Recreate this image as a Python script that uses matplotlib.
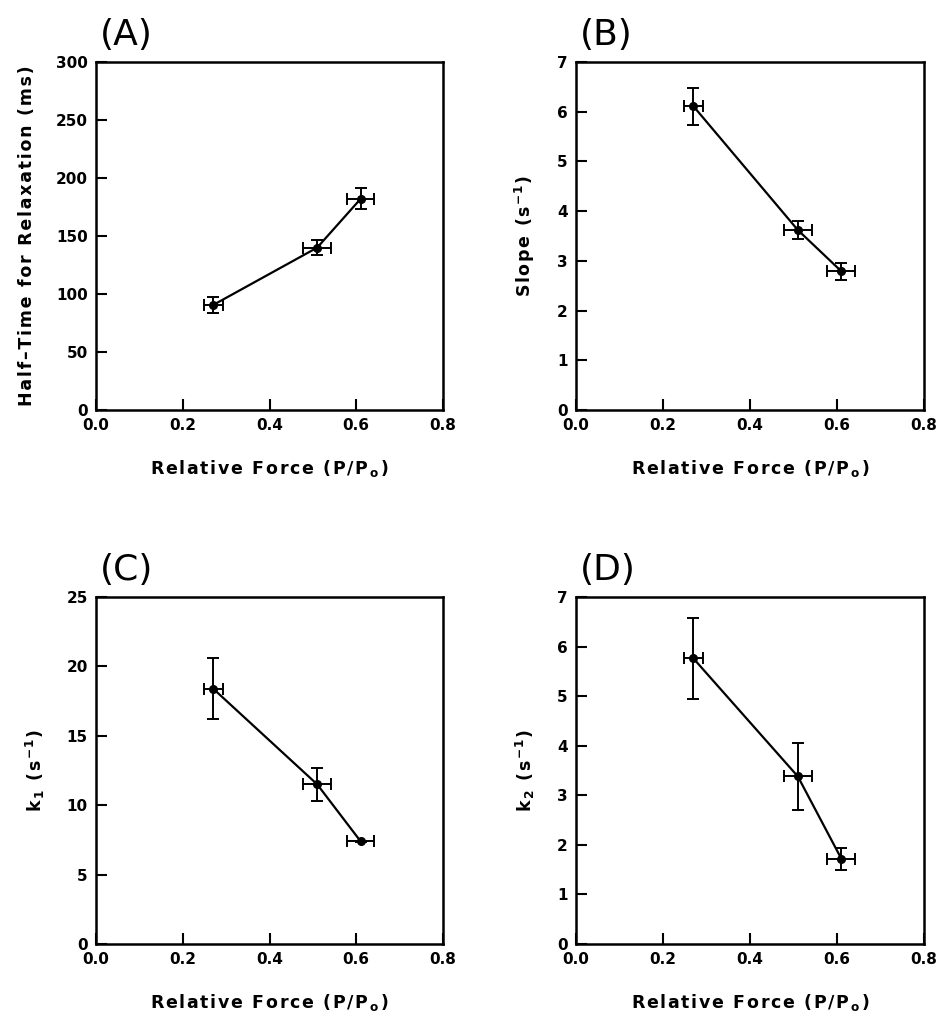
import matplotlib
matplotlib.use("Agg")
import matplotlib.pyplot as plt

# relative force (P/Po) with its error
force = [0.27, 0.51, 0.61]
force_err = [0.022, 0.032, 0.032]

# (A) half-time for relaxation, ms
half_time = [90.5, 140, 182]
half_time_err = [6.5, 6.5, 9]

# (B) slope, s^-1
slope = [6.11, 3.62, 2.79]
slope_err = [0.37, 0.18, 0.17]

# (C) k1, s^-1
k1 = [18.4, 11.5, 7.4]
k1_err = [2.17, 1.2, 0.05]

# (D) k2, s^-1
k2 = [5.76, 3.38, 1.72]
k2_err = [0.82, 0.68, 0.22]

x_ticks = [0.0, 0.2, 0.4, 0.6, 0.8]

panels = [
    ("(A)", half_time, half_time_err, ["Half\u2013Time for Relaxation (ms)"], 300, 50),
    ("(B)", slope, slope_err, ["Slope (s", "$^{-1}$", ")"], 7, 1),
    ("(C)", k1, k1_err, ["k", "$_1$", " (s", "$^{-1}$", ")"], 25, 5),
    ("(D)", k2, k2_err, ["k", "$_2$", " (s", "$^{-1}$", ")"], 7, 1),
]
xlab_parts = ["Relative Force (P/P", "$_o$", ")"]

HS = "\u200a"


def spaced(parts):
    # widen the lettering a bit, like the original typesetting
    out = []
    for p in parts:
        if p.startswith("$"):
            out.append(p)
        else:
            out.append(HS.join(p))
    return HS.join(out)


plt.rcParams["font.family"] = ["DejaVu Sans"]
plt.rcParams["mathtext.default"] = "bf"

fig = plt.figure(figsize=(9.37, 10.15), dpi=100)

# axes boxes in pixels: left, top, right, bottom
boxes = [(96, 62, 443, 410), (576, 62, 924, 410),
         (96, 597, 443, 944), (576, 597, 924, 944)]
W, H = 937, 1015

for (lab, yv, ye, ylab, ymax, ystep), (l, t, r, b) in zip(panels, boxes):
    ax = fig.add_axes([l / W, 1 - b / H, (r - l) / W, (b - t) / H])
    ax.errorbar(force, yv, xerr=force_err, yerr=ye, color="black",
                marker="o", markersize=5.5, linewidth=1.6, elinewidth=1.4,
                capsize=4, capthick=1.4)
    ax.set_xlim(0, 0.8)
    ax.set_ylim(0, ymax)
    ax.set_xticks(x_ticks)
    ax.set_xticklabels([f"{v:.1f}" for v in x_ticks])
    ax.set_yticks(range(0, ymax + 1, ystep))
    ax.tick_params(direction="in", length=8, width=1.5, top=False, right=False,
                   labelsize=11, pad=6)
    for tl in ax.get_xticklabels() + ax.get_yticklabels():
        tl.set_fontweight("bold")
    for sp in ax.spines.values():
        sp.set_linewidth(1.8)
    ax.set_xlabel(spaced(xlab_parts), fontsize=12.5, fontweight="bold",
                  labelpad=18)
    ax.set_ylabel(spaced(ylab), fontsize=12.5, fontweight="bold", labelpad=14)
    ax.text(0.01, 1.03, lab, transform=ax.transAxes, fontsize=26,
            ha="left", va="bottom")

fig.savefig("out.png", dpi=100)
